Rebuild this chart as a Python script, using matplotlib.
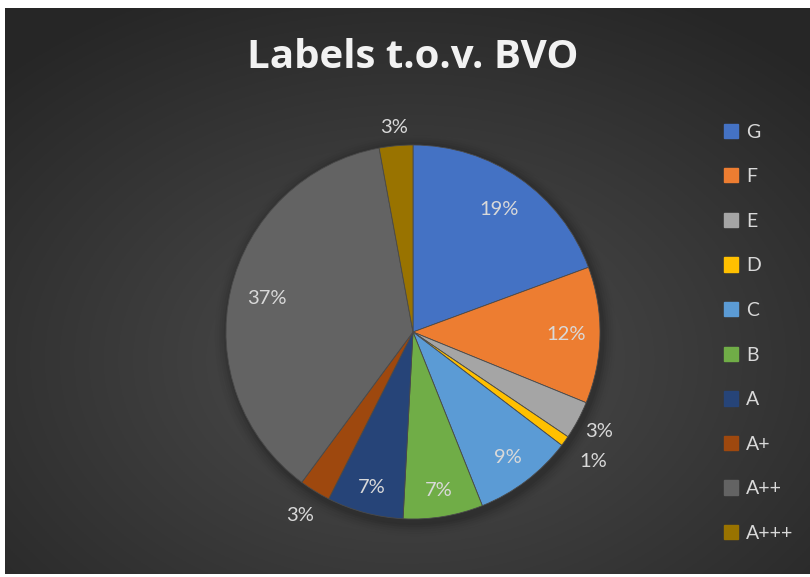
import numpy as np
import matplotlib.pyplot as plt
from matplotlib.patches import Circle, Rectangle

# data (share of each label, percent)
labels = ["G", "F", "E", "D", "C", "B", "A", "A+", "A++", "A+++"]
shares = [19.4, 11.8, 3.3, 0.9, 8.6, 6.9, 6.6, 2.7, 37.0, 2.9]
pct_text = ["19%", "12%", "3%", "1%", "9%", "7%", "7%", "3%", "37%", "3%"]
colours = ["#4472C4", "#ED7D31", "#A5A5A5", "#FFC000", "#5B9BD5",
           "#70AD47", "#264478", "#9E480E", "#636363", "#997300"]
# where Excel put each label (fraction of radius), outside ones > 1
label_dist = [0.80, 0.82, 1.13, 1.19, 0.84, 0.86, 0.86, 1.15, 0.80, 1.10]

W, H = 810, 577
fig = plt.figure(figsize=(W / 100, H / 100), dpi=100)
fig.patch.set_facecolor("white")

# radial gradient background
bg = fig.add_axes([5 / W, 3 / H, (W - 5) / W, (H - 11) / H])
yy, xx = np.mgrid[0:300, 0:420]
cx, cy = 420 * 0.5, 300 * 0.62
d = np.sqrt(((xx - cx) / 420) ** 2 + ((yy - cy) / 300) ** 2)
d = np.clip(d / 0.72, 0, 1)
g = 0.305 - 0.155 * d
img = np.dstack([g, g, g])
bg.imshow(img, aspect="auto", extent=[0, 1, 0, 1], origin="upper")
bg.set_axis_off()

# pie axes, centre (413, 332) px, radius 187 px
R = 187
half = 1.25 * R
ax = fig.add_axes([(413 - half) / W, (H - 332 - half) / H, 2 * half / W, 2 * half / H])
ax.set_xlim(-1.25, 1.25)
ax.set_ylim(-1.25, 1.25)
ax.set_axis_off()

# soft shadow under the pie
for i, a in enumerate(np.linspace(0.06, 0.015, 6)):
    ax.add_patch(Circle((0.012, -0.02), 1.0 + 0.012 * (i + 1), color="black",
                        alpha=a, lw=0, zorder=0))

wedges, _ = ax.pie(shares, colors=colours, startangle=90, counterclock=False,
                   radius=1.0, wedgeprops=dict(linewidth=0.6, edgecolor="#4a4a4a"))

total = sum(shares)
cum = 0
for s, t, r in zip(shares, pct_text, label_dist):
    mid = 90 - (cum + s / 2) / total * 360
    cum += s
    th = np.deg2rad(mid)
    ax.text(r * np.cos(th), r * np.sin(th), t, ha="center", va="center",
            fontsize=14.5, color="#d9d9d9", family="Lato")

fig.text(413 / W, 1 - 58 / H, "Labels t.o.v. BVO", ha="center", va="center",
         fontsize=29, fontweight="bold", color="#f2f2f2", family="Open Sans")

handles = [Rectangle((0, 0), 1, 1, color=c) for c in colours]
leg = fig.legend(handles, labels, loc="upper left",
                 bbox_to_anchor=(706 / W, 1 - 106 / H), frameon=False,
                 prop=dict(family="Lato", size=14), labelcolor="#d9d9d9",
                 handlelength=0.75, handleheight=0.75, handletextpad=0.4,
                 labelspacing=1.42)

fig.savefig("out.png", dpi=100, facecolor=fig.get_facecolor())
